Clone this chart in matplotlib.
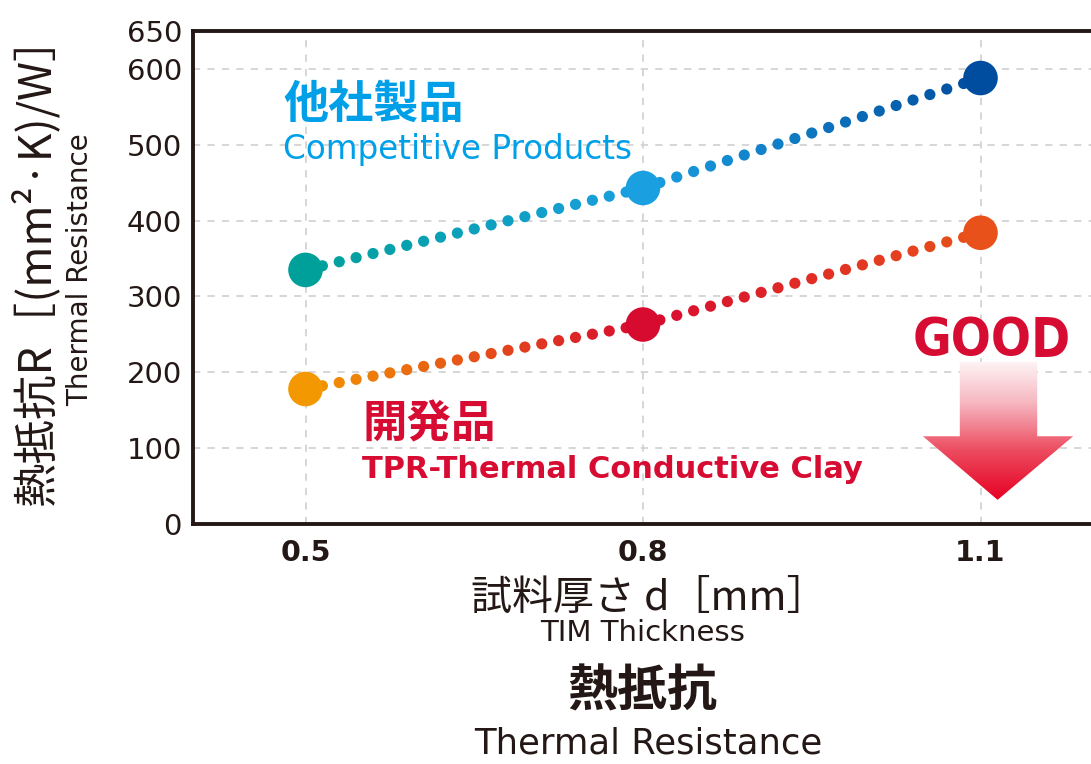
import numpy as np
import matplotlib
matplotlib.use("Agg")
import matplotlib.pyplot as plt
from matplotlib import font_manager
from matplotlib.font_manager import FontProperties
from matplotlib.colors import to_rgb, LinearSegmentedColormap
from matplotlib.patches import Polygon

# ---------------- data ----------------
thickness = [0.5, 0.8, 1.1]
x_ticklabels = ["0.5", "0.8", "1.1"]
competitor = [335, 443, 588]
developed = [178, 263, 384]
y_ticks = [0, 100, 200, 300, 400, 500, 600, 650]

competitor_colors = ["#00A09A", "#1A9FE0", "#004C9E"]
developed_colors = ["#F39800", "#D70A30", "#E8521A"]

# ---------------- fonts ----------------
LAT = ["DejaVu Sans", "Noto Sans CJK JP"]
JP = ["Noto Sans CJK JP", "DejaVu Sans"]
TXT = "#231815"

RANK = {"ultra-condensed": 4, "extra-condensed": 3, "condensed": 2, "semi-condensed": 1}


def find_condensed_bold():
    best = None
    for f in font_manager.fontManager.ttflist:
        st = str(f.stretch).lower()
        nm = f.name.lower()
        rank = RANK.get(st, 0)
        if "narrow" in nm or "condensed" in nm:
            rank = max(rank, 2)
        if rank == 0:
            continue
        try:
            w = int(f.weight)
        except Exception:
            w = 700 if "bold" in str(f.weight).lower() else 400
        if w < 600 or str(f.style) != "normal":
            continue
        score = (rank, -abs(w - 700))
        if best is None or score > best[0]:
            best = (score, f.fname)
    return best[1] if best else None


cond_file = find_condensed_bold()


def good_props(size):
    if cond_file:
        return FontProperties(fname=cond_file, size=size)
    return FontProperties(family="Liberation Sans", weight="bold", size=size)


plt.rcParams['font.family'] = LAT

fig = plt.figure(figsize=(10.91, 7.64), dpi=100)
ax = fig.add_axes([193/1091, 240/764, 900/1091, 493/764])
ax.set_xlim(0.4, 1.2)
ax.set_ylim(0, 650)

for s in ["left", "top", "bottom"]:
    ax.spines[s].set_linewidth(2.8)
    ax.spines[s].set_color(TXT)
ax.spines["right"].set_visible(False)

ax.set_yticks(y_ticks)
ax.set_yticklabels([str(v) for v in y_ticks], fontsize=21, color=TXT)
ax.set_xticks(thickness)
ax.set_xticklabels(x_ticklabels, fontsize=20.5, color=TXT, fontweight="bold")
ax.tick_params(length=0, pad=8)
ax.tick_params(axis="x", pad=11)

for v in y_ticks:
    if 0 < v < 650:
        ax.axhline(v, color="#D3D3D3", lw=1.3, ls=(0, (4, 4)), zorder=0)
for v in thickness:
    ax.axvline(v, color="#D3D3D3", lw=1.3, ls=(0, (4, 4)), zorder=0)


def draw_series(xs, ys, cols, ndots=21):
    for i in range(len(xs) - 1):
        c0 = np.array(to_rgb(cols[i]))
        c1 = np.array(to_rgb(cols[i + 1]))
        t = np.linspace(0, 1, ndots)[1:-1]
        px = xs[i] + (xs[i + 1] - xs[i]) * t
        py = ys[i] + (ys[i + 1] - ys[i]) * t
        cc = [tuple(c0 + (c1 - c0) * tt) for tt in t]
        ax.scatter(px, py, s=65, c=cc, linewidths=0, zorder=3)
    ax.scatter(xs, ys, s=620, c=cols, linewidths=0, zorder=4)


draw_series(thickness, competitor, competitor_colors)
draw_series(thickness, developed, developed_colors)

# series labels
ax.text(0.1, 0.85, "他社製品", transform=ax.transAxes, family=JP, fontsize=32.5,
        fontweight="bold", color="#00A0E9", va="center", ha="left")
ax.text(0.1, 0.759, "Competitive Products", transform=ax.transAxes, fontsize=23.5,
        color="#00A0E9", va="center", ha="left")
ax.text(0.188, 0.201, "開発品", transform=ax.transAxes, family=JP, fontsize=32,
        fontweight="bold", color="#D70C32", va="center", ha="left")
ax.text(0.188, 0.110, "TPR-Thermal Conductive Clay", transform=ax.transAxes, fontsize=22,
        fontweight="bold", color="#D70C32", va="center", ha="left")

# GOOD arrow
good = ax.text(0.888, 0.372, "GOOD", transform=ax.transAxes, fontproperties=good_props(40),
               color="#D70C32", va="center", ha="center", zorder=6)
renderer = fig.canvas.get_renderer()
w = good.get_window_extent(renderer).width
if w > 0:
    good.set_fontsize(min(58, 40 * 158.0 / w))

arrow_pts = [(0.852, 0.329), (0.938, 0.329), (0.938, 0.178), (0.978, 0.178),
             (0.894, 0.049), (0.811, 0.178), (0.852, 0.178)]
poly = Polygon(arrow_pts, closed=True, transform=ax.transAxes, facecolor="none",
               edgecolor="none")
ax.add_patch(poly)
cmap = LinearSegmentedColormap.from_list("g", ["#E60023", "#EC4A5E", "#F6B7C0", "#FFFFFF"])
grad = np.linspace(0, 1, 256).reshape(-1, 1)
im = ax.imshow(grad, cmap=cmap, extent=[0.80, 0.99, 0.049, 0.345], transform=ax.transAxes,
               aspect="auto", origin="lower", zorder=5)
im.set_clip_path(poly)

# axis labels
fig.text(35/1091, (764-260)/764, "熱抵抗R［(mm²·K)/W］", family=JP, fontsize=32,
         rotation=90, va="center", ha="center", color=TXT)
fig.text(80/1091, (764-270)/764, "Thermal Resistance", fontsize=20,
         rotation=90, va="center", ha="center", color=TXT)
fig.text(649/1091, (764-598)/764, "試料厚さ d［mm］", family=JP, fontsize=29.5,
         va="center", ha="center", color=TXT)
fig.text(643/1091, (764-633)/764, "TIM Thickness", fontsize=21,
         va="center", ha="center", color=TXT)
fig.text(642/1091, (764-692)/764, "熱抵抗", family=JP, fontsize=36, fontweight="bold",
         va="center", ha="center", color=TXT)
fig.text(648/1091, (764-744)/764, "Thermal Resistance", fontsize=25.5,
         va="center", ha="center", color=TXT)

fig.savefig("out.png", dpi=100)
